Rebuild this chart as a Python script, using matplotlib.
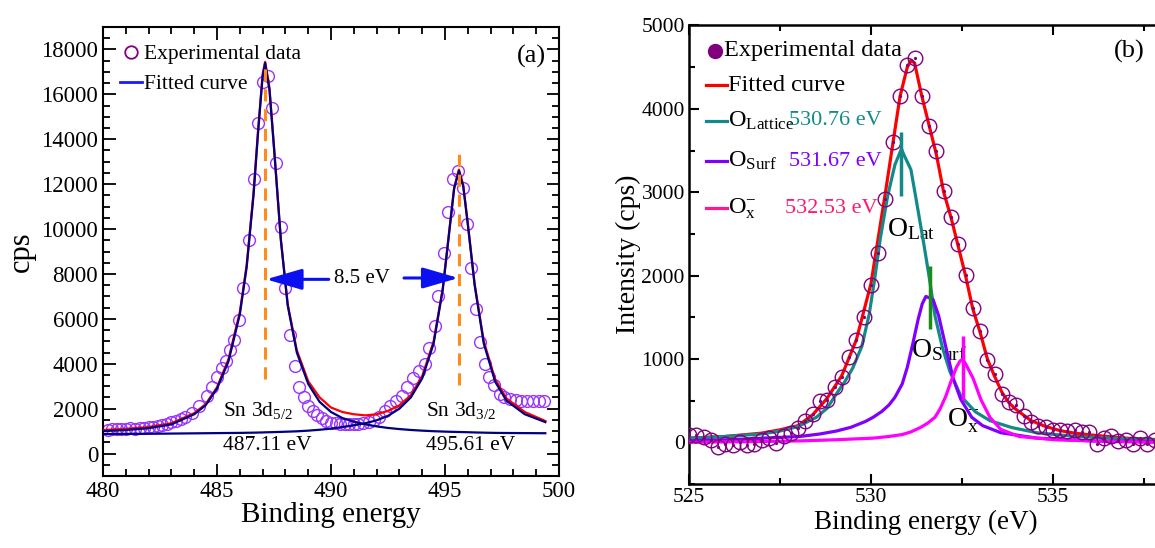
import matplotlib
matplotlib.use("Agg")
import matplotlib.pyplot as plt
from matplotlib.ticker import MultipleLocator
from matplotlib.lines import Line2D

plt.rcParams['font.family'] = ['Liberation Serif', 'DejaVu Serif']
plt.rcParams['mathtext.fontset'] = 'custom'
plt.rcParams['mathtext.rm'] = 'Liberation Serif'
plt.rcParams['mathtext.it'] = 'Liberation Serif:italic'

# ---------------- Panel (a): Sn 3d ----------------
exp_a_x = [480.2, 480.4, 480.6, 480.8, 481.0, 481.2, 481.4, 481.6, 481.8, 482.0,
           482.2, 482.4, 482.6, 482.8, 483.0, 483.2, 483.4, 483.6, 483.9, 484.2,
           484.55, 484.8, 485.0, 485.2, 485.4, 485.55, 485.75, 485.95, 486.15, 486.4,
           486.6, 486.8, 487.0, 487.25, 487.4, 487.6, 487.8, 488.0, 488.2, 488.4,
           488.6, 488.8, 489.0, 489.2, 489.4, 489.6, 489.8, 490.0, 490.2, 490.4,
           490.6, 490.8, 491.0, 491.2, 491.4, 491.65, 491.9, 492.1, 492.35, 492.6,
           492.85, 493.1, 493.35, 493.6, 493.85, 494.1, 494.3, 494.55, 494.7, 494.95,
           495.15, 495.35, 495.55, 495.8, 495.95, 496.15, 496.35, 496.55, 496.75, 496.95,
           497.15, 497.4, 497.6, 497.85, 498.1, 498.35, 498.6, 498.85, 499.1, 499.35]
exp_a_y = [1050, 1100, 1080, 1100, 1100, 1120, 1100, 1150, 1130, 1170,
           1200, 1230, 1270, 1330, 1400, 1450, 1550, 1650, 1800, 2100,
           2580, 2970, 3400, 3820, 4130, 4600, 5070, 5970, 7370, 9530,
           12220, 14740, 16540, 16840, 15380, 12960, 10070, 7370, 5300, 3900,
           2970, 2500, 2110, 1880, 1725, 1570, 1450, 1380, 1340, 1320,
           1300, 1300, 1320, 1320, 1340, 1415, 1490, 1650, 1880, 2110,
           2350, 2580, 2970, 3360, 3670, 3980, 4680, 5690, 7040, 8920,
           10740, 12220, 12600, 11830, 10240, 8250, 6440, 4990, 4010, 3390,
           3050, 2660, 2500, 2430, 2380, 2350, 2350, 2350, 2350, 2350]

curve_a_x = [480.0, 481.0, 482.0, 483.0, 484.0, 484.5, 485.0, 485.5, 486.0, 486.3,
             486.6, 486.8, 487.0, 487.11, 487.3, 487.5, 487.8, 488.1, 488.5, 489.0,
             489.5, 490.0, 490.5, 491.0, 491.5, 492.0, 492.5, 493.0, 493.5, 494.0,
             494.5, 494.9, 495.2, 495.4, 495.61, 495.8, 496.0, 496.3, 496.7, 497.2,
             497.7, 498.5, 499.4]
comp1_a = [1000, 1050, 1130, 1300, 1750, 2150, 2900, 4100, 6200, 8300,
           11500, 14300, 16800, 17400, 16200, 13600, 9500, 6600, 4500, 3100,
           2300, 1850, 1580, 1420, 1300, 1210, 1140, 1090, 1050, 1020,
           995, 980, 970, 965, 960, 955, 950, 940, 930, 920,
           915, 910, 905]
comp2_a = [870, 875, 880, 890, 900, 905, 910, 915, 920, 925,
           930, 935, 940, 945, 950, 955, 965, 975, 990, 1020,
           1060, 1110, 1180, 1260, 1350, 1480, 1680, 2000, 2500, 3350,
           4900, 7300, 10000, 11800, 12600, 11900, 10200, 7500, 4900, 3200,
           2350, 1750, 1400]
fit_a = [1050, 1100, 1180, 1350, 1800, 2200, 2950, 4200, 6300, 8400,
         11600, 14400, 16900, 17450, 16300, 13650, 9550, 6650, 4600, 3220,
         2500, 2050, 1850, 1750, 1700, 1750, 1900, 2150, 2600, 3450,
         5000, 7350, 10050, 11850, 12650, 11950, 10250, 7550, 5000, 3300,
         2450, 1850, 1450]

peak_a_pos = [487.11, 495.61]
peak_a_labels = ['Sn 3d$_{5/2}$', 'Sn 3d$_{3/2}$']
peak_a_ev = ['487.11 eV', '495.61 eV']
split_label = '8.5 eV'

# ---------------- Panel (b): O 1s ----------------
exp_b_x = [525.0, 525.2, 525.4, 525.6, 525.8, 526.0, 526.2, 526.4, 526.6, 526.8,
           527.0, 527.2, 527.4, 527.6, 527.8, 528.0, 528.2, 528.4, 528.6, 528.8,
           529.0, 529.2, 529.4, 529.6, 529.8, 530.0, 530.2, 530.4, 530.6, 530.8,
           531.0, 531.2, 531.4, 531.6, 531.8, 532.0, 532.2, 532.4, 532.6, 532.8,
           533.0, 533.2, 533.4, 533.6, 533.8, 534.0, 534.2, 534.4, 534.6, 534.8,
           535.0, 535.2, 535.4, 535.6, 535.8, 536.0, 536.2, 536.4, 536.6, 536.8,
           537.0, 537.2, 537.4, 537.6, 537.8, 538.0]
exp_b_y = [93, 93, 60, 30, -55, -25, -35, 0, -35, -25,
           30, 50, -10, 70, 115, 175, 260, 345, 490, 510,
           660, 785, 1025, 1228, 1500, 1890, 2270, 2920, 3605, 4150,
           4520, 4615, 4150, 3800, 3500, 3015, 2700, 2375, 2005, 1615,
           1330, 985, 825, 575, 480, 450, 315, 240, 200, 185,
           150, 145, 135, 145, 125, 125, -15, 50, 70, 15,
           30, -15, 50, -15, 30, -30]

fit_b_x = [525.0, 526.0, 527.0, 527.5, 528.0, 528.4, 528.8, 529.2, 529.6, 530.0,
           530.4, 530.8, 531.0, 531.1, 531.2, 531.4, 531.6, 531.8, 532.0, 532.2,
           532.4, 532.6, 532.8, 533.0, 533.2, 533.4, 533.6, 533.8, 534.0, 534.4,
           534.8, 535.2, 535.6, 536.0, 537.0, 538.0]
fit_b_y = [50, 70, 110, 150, 200, 330, 530, 800, 1230, 1900,
           3000, 4150, 4500, 4580, 4550, 4150, 3800, 3450, 3000, 2700,
           2350, 2000, 1600, 1320, 1000, 790, 600, 470, 390, 260,
           190, 140, 110, 90, 50, 30]

lat_x = [525.0, 526.0, 527.0, 527.5, 528.0, 528.5, 528.8, 529.05, 529.3, 529.5,
         529.75, 529.95, 530.1, 530.26, 530.46, 530.66, 530.84, 530.9, 531.1, 531.26,
         531.46, 531.6, 531.76, 531.96, 532.17, 532.47, 532.87, 533.27, 533.87, 534.57,
         535.58, 536.58, 537.7, 538.0]
lat_y = [50, 70, 100, 135, 190, 300, 410, 580, 740, 890,
         1150, 1530, 1950, 2450, 2955, 3330, 3520, 3455, 3270, 2870,
         2363, 1985, 1520, 1144, 850, 555, 366, 260, 177, 114,
         72, 50, 30, 28]

surf_x = [525.0, 526.0, 527.04, 528.05, 528.6, 529.05, 529.45, 529.85, 530.06, 530.3,
          530.5, 530.66, 530.86, 531.0, 531.15, 531.3, 531.41, 531.51, 531.62, 531.71,
          531.86, 532.06, 532.26, 532.47, 532.77, 533.07, 533.57, 534.57, 536.08, 537.7,
          538.0]
surf_y = [17, 30, 50, 70, 100, 135, 180, 250, 300, 370,
          450, 540, 700, 900, 1180, 1480, 1660, 1750, 1730, 1710,
          1520, 1140, 765, 515, 300, 200, 115, 50, 17, 8,
          8]

ox_x = [525.0, 527.0, 528.05, 529.0, 530.06, 530.5, 530.86, 531.1, 531.36, 531.56,
        531.76, 531.9, 532.06, 532.2, 532.35, 532.45, 532.52, 532.61, 532.81, 533.02,
        533.27, 533.57, 534.07, 535.08, 536.5, 537.7, 538.0]
ox_y = [0, 10, 17, 30, 50, 70, 93, 125, 177, 230,
        300, 400, 555, 730, 900, 975, 997, 935, 765, 515,
        300, 155, 70, 30, 10, 0, 0]

comp_b_ev = ['530.76 eV', '531.67 eV', '532.53 eV']

# ---------------- Figure ----------------
fig = plt.figure(figsize=(11.55, 5.48), dpi=100)

# ----- Panel (a)
ax = fig.add_axes([0.0892, 0.1314, 0.3948, 0.8193])
ax.plot(exp_a_x, exp_a_y, linestyle='none', marker='o', markersize=8.5,
        markerfacecolor='none', markeredgecolor='#9933ff', markeredgewidth=1.0, zorder=2)
ax.plot(curve_a_x, fit_a, color='#ff0000', lw=1.6, zorder=3)
ax.plot(curve_a_x, comp1_a, color='#000080', lw=1.6, zorder=4)
ax.plot(curve_a_x, comp2_a, color='#000080', lw=1.6, zorder=4)

ax.vlines(peak_a_pos[0], 3300, 17500, colors='#ff8c1a', linestyles=(0, (4, 2.5)), lw=2.2, zorder=5)
ax.vlines(peak_a_pos[1], 3050, 13400, colors='#ff8c1a', linestyles=(0, (4, 2.5)), lw=2.2, zorder=5)

arrow_kw = dict(arrowstyle='-|>,head_length=1.1,head_width=0.32', color='#0a10f0',
                lw=2.2, mutation_scale=20, shrinkA=0, shrinkB=0)
ax.annotate('', xy=(peak_a_pos[0] + 0.04, 7760), xytext=(489.9, 7760), arrowprops=arrow_kw, zorder=6)
ax.annotate('', xy=(peak_a_pos[1] - 0.02, 7820), xytext=(493.2, 7820), arrowprops=arrow_kw, zorder=6)
ax.text(491.35, 7800, split_label, fontsize=15, ha='center', va='center')

ax.text(485.25, 1900, peak_a_labels[0], fontsize=15.5, ha='left', va='center')
ax.text(485.25, 350, peak_a_ev[0], fontsize=15.5, ha='left', va='center')
ax.text(494.15, 1900, peak_a_labels[1], fontsize=15.5, ha='left', va='center')
ax.text(494.15, 350, peak_a_ev[1], fontsize=15.5, ha='left', va='center')
ax.text(0.94, 0.935, '(a)', transform=ax.transAxes, fontsize=19, ha='center', va='center')

ax.set_xlim(480, 500)
ax.set_ylim(-1000, 19000)
ax.xaxis.set_major_locator(MultipleLocator(5))
ax.xaxis.set_minor_locator(MultipleLocator(1))
ax.yaxis.set_major_locator(MultipleLocator(2000))
ax.yaxis.set_minor_locator(MultipleLocator(500))
ax.tick_params(which='both', direction='in', top=True, right=True, labelsize=16.5, width=1.3)
ax.tick_params(which='major', length=9)
ax.tick_params(which='minor', length=5)
for s in ax.spines.values():
    s.set_linewidth(1.5)
ax.set_xlabel('Binding energy', fontsize=21, labelpad=0)
ax.set_ylabel('cps', fontsize=22, labelpad=4)

h_exp_a = Line2D([], [], linestyle='none', marker='o', markersize=9, markerfacecolor='none',
                 markeredgecolor='#800080', markeredgewidth=1.3)
h_fit_a = Line2D([], [], color='#1a1aff', lw=2.0)
ax.legend([h_exp_a, h_fit_a], ['Experimental data', 'Fitted curve'], loc='upper left',
          bbox_to_anchor=(0.0, 1.0), frameon=False, fontsize=15.5, handlelength=1.0,
          handletextpad=0.1, labelspacing=0.45, borderaxespad=0.4)

# ----- Panel (b)
bx = fig.add_axes([0.5965, 0.1168, 0.4096, 0.8367])
bx.plot(fit_b_x, fit_b_y, color='#ff0000', lw=2.3, zorder=3)
bx.plot(lat_x, lat_y, color='#138a8a', lw=2.3, zorder=4)
bx.plot(surf_x, surf_y, color='#8000ff', lw=2.3, zorder=4)
bx.plot(ox_x, ox_y, color='#ff00ff', lw=2.3, zorder=4)
bx.plot(exp_b_x, exp_b_y, linestyle='none', marker='o', markersize=10.5,
        markerfacecolor='none', markeredgecolor='#800080', markeredgewidth=1.0, zorder=5)
bx.plot(exp_b_x, exp_b_y, linestyle='none', marker='o', markersize=1.3,
        markerfacecolor='#800080', markeredgecolor='#800080', zorder=5)

bx.vlines(530.84, 2950, 3720, colors='#138a8a', lw=2.5, zorder=6)
bx.vlines(531.63, 1355, 2110, colors='#1a8c1a', lw=2.5, zorder=6)
bx.vlines(532.52, 510, 1270, colors='#ff00ff', lw=2.5, zorder=6)

bx.text(530.45, 2560, r'O$_{\mathrm{Lat}}$', fontsize=20, ha='left', va='center')
bx.text(531.1, 1110, r'O$_{\mathrm{Surf}}$', fontsize=20, ha='left', va='center')
bx.text(532.08, 260, r'O$_{\mathrm{x}}^{\mathrm{-}}$', fontsize=20, ha='left', va='center')
bx.text(537.1, 4690, '(b)', fontsize=19, ha='center', va='center')

# manual legend (b)
tr = bx.transAxes
bx.plot([0.056], [0.945], transform=tr, marker='o', markersize=10, color='#800080', linestyle='none')
bx.text(0.075, 0.945, 'Experimental data', transform=tr, fontsize=17.5, ha='left', va='center')
rows = [(0.870, '#ff0000', 'Fitted curve', None, None),
        (0.792, '#138a8a', r'O$_{\mathrm{Lattice}}$', comp_b_ev[0], '#138a8a'),
        (0.704, '#8000ff', r'O$_{\mathrm{Surf}}$', comp_b_ev[1], '#8000ff'),
        (0.601, '#ff1a8c', r'O$_{\mathrm{x}}^{\mathrm{-}}$', comp_b_ev[2], '#ff1a6e')]
for i, (yy, col, lab, val, vcol) in enumerate(rows):
    bx.plot([0.037, 0.081], [yy, yy], transform=tr, color=col, lw=2.3)
    bx.text(0.082, yy, lab, transform=tr, fontsize=17.5, ha='left', va='center')
    if val is not None:
        xv = 0.203 if i == 3 else 0.212
        bx.text(xv, yy, val, transform=tr, fontsize=16, ha='left', va='center', color=vcol)

bx.set_xlim(525, 538)
bx.set_ylim(-500, 5000)
bx.xaxis.set_major_locator(MultipleLocator(5))
bx.xaxis.set_minor_locator(MultipleLocator(2.5))
bx.yaxis.set_major_locator(MultipleLocator(1000))
bx.yaxis.set_minor_locator(MultipleLocator(500))
bx.tick_params(which='both', direction='in', top=True, labelsize=15.5, width=1.5, pad=3)
bx.tick_params(which='major', length=7)
bx.tick_params(which='minor', length=4)
for s in bx.spines.values():
    s.set_linewidth(1.8)
bx.set_xlabel('Binding energy (eV)', fontsize=19.5, labelpad=2)
bx.set_ylabel('Intensity (cps)', fontsize=20, labelpad=0)

fig.savefig('out.png', dpi=100)
